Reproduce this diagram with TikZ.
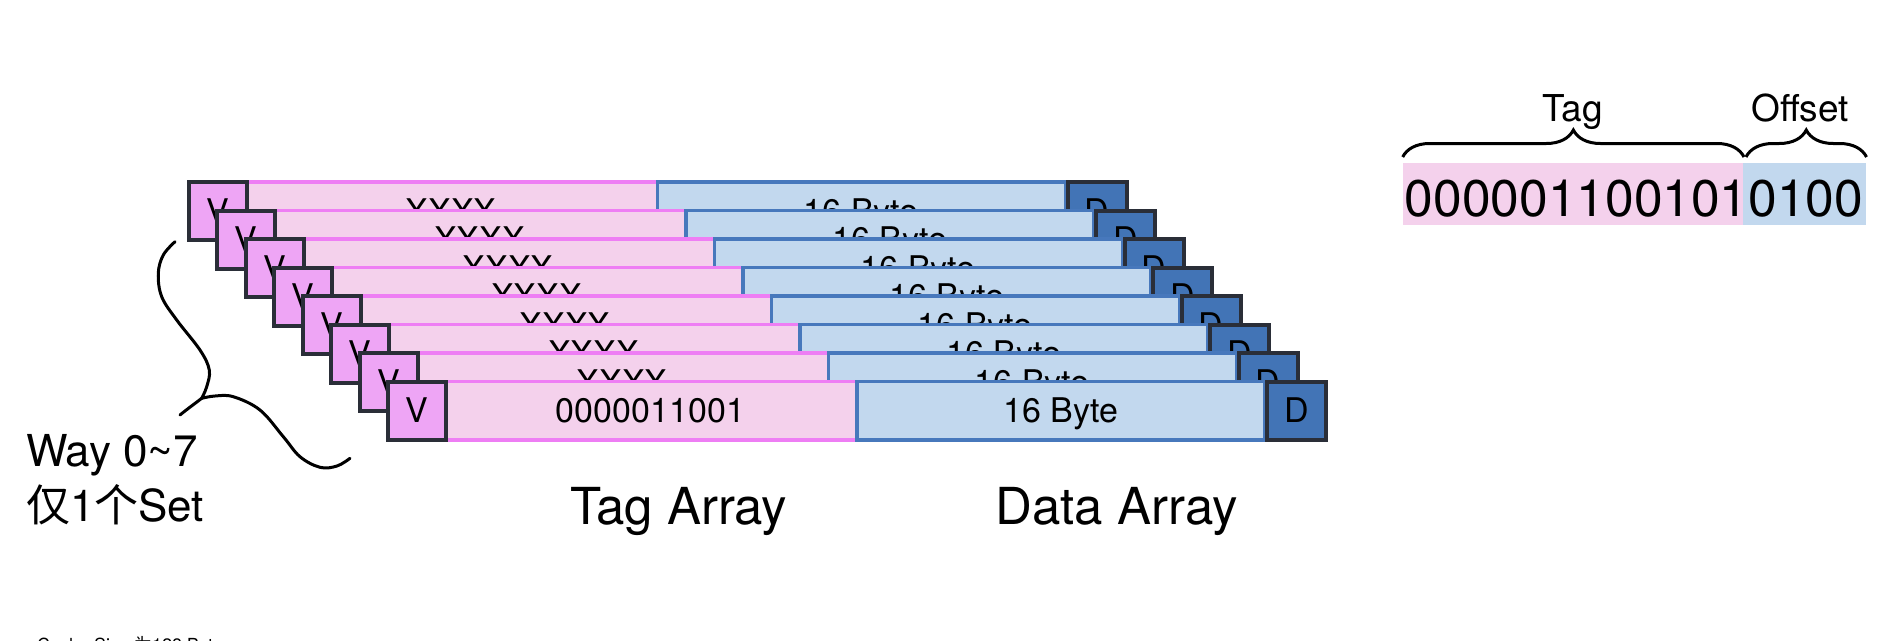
\documentclass[tikz,border=0pt]{standalone}
\usepackage{fontspec}
\setmainfont{TeX Gyre Heros}
\newfontfamily\cjk{Noto Sans CJK SC}
\usetikzlibrary{decorations.pathreplacing}
\definecolor{tagfill}{HTML}{F4D1EC}
\definecolor{magline}{HTML}{EE7EF4}
\definecolor{vfill}{HTML}{EEA5F5}
\definecolor{darkline}{HTML}{2A2E38}
\definecolor{datafill}{HTML}{C2D8EE}
\definecolor{datablue}{HTML}{4778BC}
\definecolor{dfill}{HTML}{4274B6}
\newcommand\myfs[1]{\fontsize{#1pt}{#1pt}\selectfont}
\begin{document}
\begin{tikzpicture}[x=1pt,y=-1pt,
  cell/.style={rectangle, inner sep=0pt, outer sep=0pt, anchor=north west, text depth=-2.4pt},
  vbox/.style={cell, draw=darkline, line width=4pt, fill=vfill, minimum width=58pt, minimum height=58pt, font=\myfs{34}},
  dbox/.style={cell, draw=darkline, line width=4pt, fill=dfill, minimum width=59pt, minimum height=58pt, font=\myfs{34}},
  tagbox/.style={cell, fill=tagfill, minimum width=409pt, minimum height=58.5pt, font=\myfs{34}},
  databox/.style={cell, draw=datablue, line width=3.5pt, fill=datafill, minimum width=408pt, minimum height=58.5pt, font=\myfs{34}},
  magedge/.style={draw=magline, line width=3.5pt},
  bracestyle/.style={draw=black, line width=3pt, decorate, decoration={brace, amplitude=27pt}},
  curly/.style={draw=black, line width=3pt, line cap=round, line join=round},
  lbl/.style={inner sep=0pt, outer sep=0pt}
]
\useasboundingbox (0,0) rectangle (1897,640);
\fill[white] (0,0) rectangle (1897,640);

% ---- cache ways (back to front) ----
\foreach \k in {0,...,7}{
  \pgfmathsetmacro\L{186.5+28.5*\k}
  \pgfmathsetmacro\T{180+28.5*\k}
  \ifnum\k=7 \def\tagtxt{0000011001}\else\def\tagtxt{XXXX}\fi
  \node[tagbox] (tag\k) at (\L+60,\T+1.75) {\tagtxt};
  \draw[magedge] (tag\k.north west) -- (tag\k.north east);
  \draw[magedge] (tag\k.south west) -- (tag\k.south east);
  \node[databox] (data\k) at (\L+470.75,\T+1.75) {16 Byte};
  \node[vbox] (v\k) at (\L+2,\T+2) {V};
  \node[dbox] (d\k) at (\L+881,\T+2) {D};
}

% ---- left curly brace ----
\draw[curly] plot[smooth, tension=0.6] coordinates {(175,241.7) (163.3,255) (158.3,273.3) (161.7,296.7) (176.7,320) (200,350) (209.3,370) (206.7,386.7) (201.7,398.3)};
\draw[curly] (201.7,398.3) .. controls (193,405) and (186,410) .. (180,415);
\draw[curly] plot[smooth, tension=0.6] coordinates {(201.7,398.3) (215,396) (233.3,396.7) (260,410) (283.3,436.7) (300,456.7) (320,467.3) (337,466) (350,458.3)};

\node[lbl, anchor=base west, font=\myfs{44}] (waylbl) at (26,466.7) {Way 0\textasciitilde7};
\node[lbl, anchor=base west, font=\myfs{44}] (setlbl) at (26,521.5) {{\cjk 仅}1{\cjk 个}Set};

% ---- array labels ----
\node[lbl, anchor=base, font=\myfs{51}] (tagarr) at (678.7,524) {Tag Array};
\node[lbl, anchor=base, font=\myfs{51}] (dataarr) at (1116.5,524) {Data Array};

% ---- address bits ----
\node[cell, text depth=0pt, fill=tagfill, minimum width=340.6pt, minimum height=62.3pt] (tagbits) at (1402.7,162.7) {};
\node[cell, text depth=0pt, fill=datafill, minimum width=122.7pt, minimum height=62.3pt] (offbits) at (1743.3,162.7) {};
\node[lbl, anchor=base, font=\myfs{51.5}] (bits) at (1634,216) {0000011001010100};
\draw[bracestyle] (1402.7,157) -- (1744,157);
\draw[bracestyle] (1746,157) -- (1866.5,157);
\node[lbl, anchor=base, font=\myfs{37}] (taglbl) at (1573,121.7) {Tag};
\node[lbl, anchor=base, font=\myfs{37}] (offlbl) at (1800,121.7) {Offset};

% ---- cut-off footnote ----
\node[lbl, anchor=north west, font=\myfs{18}] (foot) at (37,636.5) {Cache Size {\cjk 为}128 Byte};
\end{tikzpicture}
\end{document}
